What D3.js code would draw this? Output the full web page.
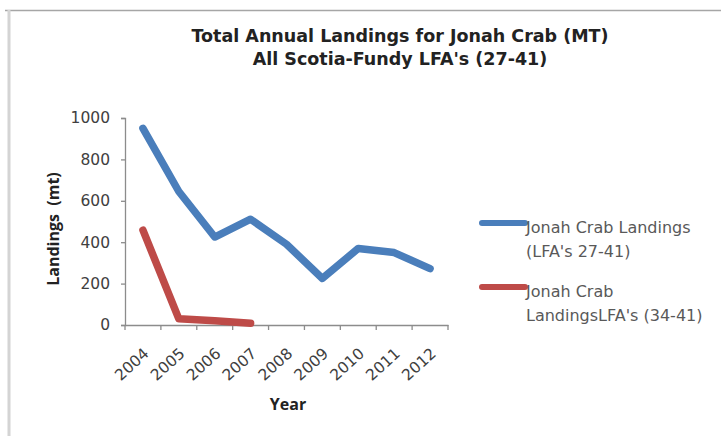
<!DOCTYPE html>
<html>
<head>
<meta charset="utf-8">
<script src="https://cdn.jsdelivr.net/npm/d3@7"></script>
<style>
  html, body { margin: 0; padding: 0; background: #fff; }
  svg { display: block; }
</style>
</head>
<body>
<svg id="chart" width="721" height="436"></svg>
<script>
const years = ["2004","2005","2006","2007","2008","2009","2010","2011","2012"];
const landings2741 = [950, 645, 425, 511, 390, 225, 370, 350, 272];
const landings3441 = [458, 30, 20, 8];
const yTicks = [0, 200, 400, 600, 800, 1000];
const titleLines = ["Total Annual Landings for Jonah Crab (MT)", "All Scotia-Fundy LFA's (27-41)"];
const legendItems = [
  { lines: ["Jonah Crab Landings", "(LFA's 27-41)"], color: "#4a7ebb" },
  { lines: ["Jonah Crab", "LandingsLFA's (34-41)"], color: "#be4b48" }
];
const series = [
  { values: landings2741, color: "#4a7ebb" },
  { values: landings3441, color: "#be4b48" }
];

const svg = d3.select("#chart");

// frame edges
svg.append("line").attr("x1", 5).attr("x2", 721).attr("y1", 10.5).attr("y2", 10.5)
  .attr("stroke", "#a6a6a6").attr("stroke-width", 1.5);
svg.append("line").attr("x1", 9).attr("x2", 9).attr("y1", 10).attr("y2", 436)
  .attr("stroke", "#d4d4d4").attr("stroke-width", 3);

// title
svg.append("text").attr("x", 400).attr("y", 42).attr("text-anchor", "middle")
  .style("font-family", "'DejaVu Sans'").style("font-weight", "bold").style("font-size", "17.5px")
  .attr("fill", "#222")
  .selectAll("tspan").data(titleLines).join("tspan")
  .attr("x", 400).attr("dy", (d, i) => i === 0 ? 0 : 23).text(d => d);

const x = d3.scaleBand().domain(years).range([125, 448]);
const y = d3.scaleLinear().domain([0, 1000]).range([325, 118]);

// y axis
const yAxis = svg.append("g").attr("transform", "translate(125,0)")
  .call(d3.axisLeft(y).tickValues(yTicks).tickSize(4).tickPadding(11).tickFormat(d3.format("d")));
yAxis.select(".domain").attr("stroke", "#8c8c8c").attr("stroke-width", 1.3);
yAxis.selectAll(".tick line").attr("stroke", "#8c8c8c").attr("stroke-width", 1.3);
yAxis.selectAll(".tick text").style("font-family", "'DejaVu Sans'").style("font-size", "15.5px")
  .attr("fill", "#404040");

// x axis
const xAxis = svg.append("g").attr("transform", "translate(0,325)")
  .call(d3.axisBottom(x).tickSize(0).tickFormat(d => d));
xAxis.select(".domain").attr("stroke", "#8c8c8c").attr("stroke-width", 1.3);
xAxis.selectAll(".tick line").remove();
const bounds = years.map(d => x(d)).concat([x(years[years.length - 1]) + x.bandwidth()]);
xAxis.selectAll(".bound").data(bounds).join("line").attr("class", "bound")
  .attr("x1", d => d).attr("x2", d => d).attr("y1", 0).attr("y2", 5)
  .attr("stroke", "#8c8c8c").attr("stroke-width", 1.3);
xAxis.selectAll(".tick text")
  .style("font-family", "'DejaVu Sans'").style("font-size", "15.5px").attr("fill", "#404040")
  .attr("text-anchor", "end").attr("dy", null).attr("y", 0)
  .attr("transform", "translate(7,30) rotate(-42)");

// axis titles
svg.append("text").attr("transform", "translate(59,229) rotate(-90)").attr("text-anchor", "middle")
  .style("font-family", "'Open Sans'").style("font-weight", "bold").style("font-size", "16px")
  .attr("fill", "#222").attr("xml:space", "preserve").text("Landings  (mt)");
svg.append("text").attr("x", 288).attr("y", 410).attr("text-anchor", "middle")
  .style("font-family", "'Open Sans'").style("font-weight", "bold").style("font-size", "16px")
  .attr("fill", "#222").text("Year");

// lines
const line = d3.line().x((d, i) => x(years[i]) + x.bandwidth() / 2).y(d => y(d));
svg.selectAll(".series").data(series).join("path").attr("class", "series")
  .attr("d", d => line(d.values)).attr("fill", "none")
  .attr("stroke", d => d.color).attr("stroke-width", 7.5)
  .attr("stroke-linejoin", "round").attr("stroke-linecap", "round");

// legend
const legendY = [223, 287];
const lg = svg.selectAll(".leg").data(legendItems).join("g").attr("class", "leg")
  .attr("transform", (d, i) => `translate(482,${legendY[i]})`);
lg.append("line").attr("x1", 0).attr("x2", 43).attr("y1", 0).attr("y2", 0)
  .attr("stroke", d => d.color).attr("stroke-width", 6).attr("stroke-linecap", "round");
lg.append("text").attr("x", 44).attr("y", 10)
  .style("font-family", "'DejaVu Sans'").style("font-size", "16px").attr("fill", "#595959")
  .selectAll("tspan").data(d => d.lines).join("tspan")
  .attr("x", 44).attr("dy", (d, i) => i === 0 ? 0 : 24).text(d => d);
</script>
</body>
</html>
